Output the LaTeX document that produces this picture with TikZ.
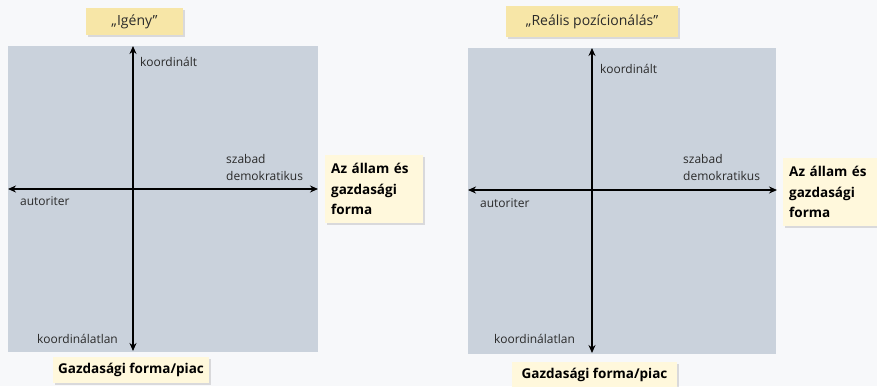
\documentclass[tikz,border=0pt]{standalone}
\usepackage{fontspec}
\setmainfont{Open Sans}
\usetikzlibrary{arrows.meta,shadows}
\definecolor{bg}{HTML}{F7F8FA}
\definecolor{panel}{HTML}{CAD2DC}
\definecolor{titlefill}{HTML}{F7E6A7}
\definecolor{notefill}{HTML}{FFF8DC}
\definecolor{txt}{HTML}{2A2A2A}
\begin{document}
\begin{tikzpicture}[x=1pt,y=-1pt,
  panelbox/.style={fill=panel, draw=none, inner sep=0pt, anchor=north west},
  axis/.style={line width=1.6pt, black, {Stealth[length=8pt,width=7pt]}-{Stealth[length=8pt,width=7pt]}},
  lbl/.style={font=\fontsize{12}{17}\selectfont, text=txt, inner sep=0pt},
  shade/.style={drop shadow={shadow xshift=1.5pt, shadow yshift=-1.5pt, opacity=0.25, fill=gray}},
  titlebox/.style={fill=titlefill, shade, inner sep=0pt, font=\fontsize{14}{16}\selectfont, text=txt},
  notebox/.style={fill=notefill, shade, inner sep=0pt, font=\bfseries\fontsize{13.5}{20.5}\selectfont, text=black},
]
\fill[bg] (0,0) rectangle (877,386);
\useasboundingbox (0,0) rectangle (877,386);

% ---------- left panel ----------
\node[panelbox, minimum width=310pt, minimum height=306pt] (pL) at (8,46) {};
\coordinate (Lt) at (133,46);
\coordinate (Lb) at (133,351);
\coordinate (Ll) at (8,189);
\coordinate (Lr) at (318,189);
\draw[axis] (Lb) -- (Lt);
\draw[axis] (Ll) -- (Lr);
\node[lbl, anchor=west] (kL) at (140,62) {koordinált};
\node[lbl, anchor=west] (kaL) at (37,339) {koordinálatlan};
\node[lbl, anchor=west] (aL) at (20,201) {autoriter};
\node[lbl, anchor=west] (s1L) at (226,159) {szabad};
\node[lbl, anchor=west] (s2L) at (226,176) {demokratikus};
\node[titlebox, minimum width=97pt, minimum height=27pt] (tL) at (134.5,21.5) {„Igény”};
\node[notebox, anchor=north west, minimum height=68pt, text width=86pt, inner xsep=6pt, align=left] (nL) at (325,155) {Az állam és\\gazdasági\\forma};
\node[notebox, minimum width=156pt, minimum height=26pt] (bL) at (131,370) {Gazdasági forma/piac};

% ---------- right panel ----------
\node[panelbox, minimum width=308pt, minimum height=306pt] (pR) at (468,48) {};
\coordinate (Rt) at (592,48);
\coordinate (Rb) at (592,353);
\coordinate (Rl) at (468,190);
\coordinate (Rr) at (777,190);
\draw[axis] (Rb) -- (Rt);
\draw[axis] (Rl) -- (Rr);
\node[lbl, anchor=west] (kR) at (600,69) {koordinált};
\node[lbl, anchor=west] (kaR) at (494,339) {koordinálatlan};
\node[lbl, anchor=west] (aR) at (480,203) {autoriter};
\node[lbl, anchor=west] (s1R) at (683,159) {szabad};
\node[lbl, anchor=west] (s2R) at (683,176) {demokratikus};
\node[titlebox, minimum width=172pt, minimum height=31pt] (tR) at (592,21.5) {„Reális pozícionálás”};
\node[notebox, anchor=north west, minimum height=68pt, text width=88pt, inner xsep=6pt, align=left] (nR) at (783,158) {Az állam és\\gazdasági\\forma};
\node[notebox, minimum width=165pt, minimum height=26pt] (bR) at (594.5,375) {Gazdasági forma/piac};
\end{tikzpicture}
\end{document}
